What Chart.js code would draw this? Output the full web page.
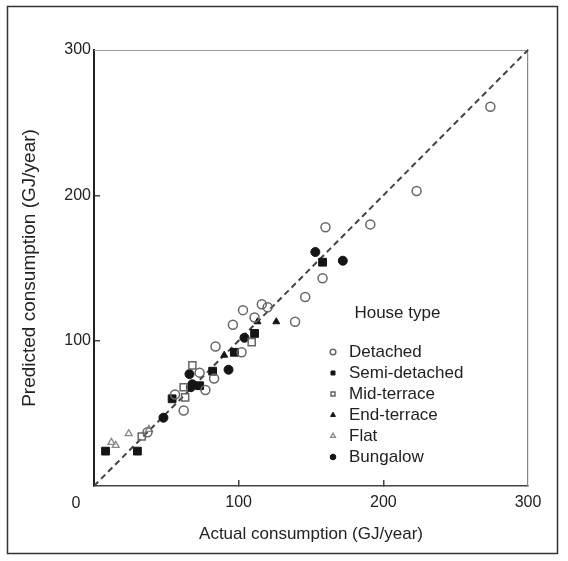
<!DOCTYPE html>
<html>
<head>
<meta charset="utf-8">
<script src="https://cdn.jsdelivr.net/npm/chart.js@4.4.0/dist/chart.umd.min.js"></script>
<style>
html,body{margin:0;padding:0;background:#fff;}
#wrap{width:568px;height:561px;position:relative;}
</style>
</head>
<body>
<div id="wrap"><canvas id="c" width="568" height="561"></canvas></div>
<script>
// ---- data (actual, predicted) in GJ/year ----
const houseTypes = ['Detached','Semi-detached','Mid-terrace','End-terrace','Flat','Bungalow'];
const axisTicks = [0, 100, 200, 300];
const refLine = [0, 300];

const detachedActual    = [274, 223, 191, 160, 158, 146, 139, 116, 120, 103, 111, 96, 84, 102, 73, 83, 77, 56, 62, 37];
const detachedPredicted = [261, 203, 180, 178, 143, 130, 113, 125, 123, 121, 116, 111, 96, 92, 78, 74, 66, 63, 52, 37];

const semiActual    = [8, 30, 111, 97, 82, 73, 158, 54];
const semiPredicted = [24, 24, 105, 92, 79, 69, 154, 60];

const midActual    = [68, 62, 63, 109, 33];
const midPredicted = [83, 68, 61, 99, 34];

const endActual    = [126, 113, 90];
const endPredicted = [113, 113, 90];

const flatActual    = [12, 15, 24, 38];
const flatPredicted = [30, 28, 36, 39];

const bungalowActual    = [153, 172, 104, 93, 66, 68, 67, 48];
const bungalowPredicted = [161, 155, 102, 80, 77, 70, 68, 47];

// ---- chart ----
const FONT = "'Liberation Sans', Arial, Helvetica, sans-serif";
Chart.defaults.font.family = FONT;
Chart.defaults.color = '#222';

const pts = (xs, ys) => xs.map((x, i) => ({x: x, y: ys[i]}));
const OPEN = 'rgba(255,255,255,0)';
const INK = '#151515';

const framePlugin = {
  id: 'frame',
  beforeDraw(chart) {
    const ctx = chart.ctx;
    ctx.save();
    ctx.fillStyle = '#fff';
    ctx.fillRect(0, 0, chart.width, chart.height);
    ctx.strokeStyle = '#333';
    ctx.lineWidth = 1.5;
    ctx.strokeRect(7.5, 6.5, 550, 547);
    ctx.restore();
  }
};

const legendPlace = {
  id: 'legendPlace',
  afterLayout(chart) {
    const l = chart.legend;
    if (!l) return;
    const w = l.width, h = l.height;
    l.left = 321.5; l.top = 304.5;
    l.right = l.left + w; l.bottom = l.top + h;
  }
};

const cornerZero = {
  id: 'cornerZero',
  afterDraw(chart) {
    const ctx = chart.ctx;
    const xs = chart.scales.x, ys = chart.scales.y;
    ctx.save();
    ctx.font = '16px ' + FONT;
    ctx.fillStyle = '#222';
    ctx.textAlign = 'center';
    ctx.textBaseline = 'middle';
    ctx.fillText(String(axisTicks[0]), xs.getPixelForValue(axisTicks[0]) - 18, ys.getPixelForValue(axisTicks[0]) + 18);
    ctx.restore();
  }
};

const innerTick = c => (c.tick && c.tick.value > axisTicks[0] && c.tick.value < axisTicks[axisTicks.length - 1]) ? '#444' : 'rgba(0,0,0,0)';
const setTicks = s => { s.ticks = axisTicks.map(v => ({value: v})); };

new Chart(document.getElementById('c'), {
  type: 'scatter',
  data: {
    datasets: [
      {label: 'y = x', data: pts(refLine, refLine), showLine: true, borderColor: '#444', borderWidth: 2,
       borderDash: [6, 4], pointRadius: 0, fill: false, order: 10},
      {label: houseTypes[0], data: pts(detachedActual, detachedPredicted), pointStyle: 'circle', pointRadius: 4.5,
       backgroundColor: OPEN, borderColor: '#666', borderWidth: 1.5},
      {label: houseTypes[1], data: pts(semiActual, semiPredicted), pointStyle: 'rect', pointRadius: 5.5,
       backgroundColor: INK, borderColor: INK, borderWidth: 1},
      {label: houseTypes[2], data: pts(midActual, midPredicted), pointStyle: 'rect', pointRadius: 5,
       backgroundColor: OPEN, borderColor: '#666', borderWidth: 1.5},
      {label: houseTypes[3], data: pts(endActual, endPredicted), pointStyle: 'triangle', pointRadius: 4,
       backgroundColor: INK, borderColor: INK, borderWidth: 1},
      {label: houseTypes[4], data: pts(flatActual, flatPredicted), pointStyle: 'triangle', pointRadius: 4,
       backgroundColor: OPEN, borderColor: '#888', borderWidth: 1.3},
      {label: houseTypes[5], data: pts(bungalowActual, bungalowPredicted), pointStyle: 'circle', pointRadius: 4.5,
       backgroundColor: INK, borderColor: INK, borderWidth: 1}
    ]
  },
  options: {
    responsive: false,
    animation: false,
    devicePixelRatio: 1,
    events: [],
    layout: {padding: {left: 10, right: 40, top: 50, bottom: 14}},
    plugins: {
      tooltip: {enabled: false},
      legend: {
        position: 'chartArea',
        align: 'start',
        title: {display: true, text: 'House type', color: '#222', font: {size: 17}, padding: {top: 0, bottom: 14.6}},
        labels: {
          usePointStyle: true, boxWidth: 15, boxHeight: 4, padding: 4, color: '#222', font: {size: 17},
          filter: item => item.datasetIndex !== 0
        }
      }
    },
    scales: {
      x: {
        type: 'linear', position: 'bottom', min: 0, max: 300,
        afterBuildTicks: setTicks,
        ticks: {callback: v => v === axisTicks[0] ? '' : String(v), font: {size: 16}, color: '#222', padding: 13, maxRotation: 0, autoSkip: false},
        grid: {drawOnChartArea: false, tickLength: -6, color: innerTick, lineWidth: 1.5},
        border: {color: '#444', width: 1.5},
        title: {display: true, text: 'Actual consumption (GJ/year)', color: '#222', font: {size: 17}, padding: {top: 0, bottom: 2}},
        afterFit: s => { s.height = 61; }
      },
      y: {
        type: 'linear', position: 'left', min: 0, max: 300,
        afterBuildTicks: setTicks,
        ticks: {callback: v => v === axisTicks[0] ? '' : String(v), font: {size: 16}, color: '#222', padding: 9, autoSkip: false},
        grid: {drawOnChartArea: false, tickLength: -6, color: innerTick, lineWidth: 1.5},
        border: {color: '#222', width: 2},
        title: {display: true, text: 'Predicted consumption (GJ/year)', color: '#222', font: {size: 19}, padding: {top: 8.6, bottom: 0}},
        afterFit: s => { s.width = 84; }
      },
      x2: {
        type: 'linear', position: 'top', min: 0, max: 300,
        ticks: {display: false}, grid: {display: false, drawTicks: false},
        border: {color: '#999', width: 1},
        afterFit: s => { s.height = 0; }
      },
      y2: {
        type: 'linear', position: 'right', min: 0, max: 300,
        ticks: {display: false}, grid: {display: false, drawTicks: false},
        border: {color: '#888', width: 1.2},
        afterFit: s => { s.width = 0; }
      }
    }
  },
  plugins: [framePlugin, legendPlace, cornerZero]
});
</script>
</body>
</html>
